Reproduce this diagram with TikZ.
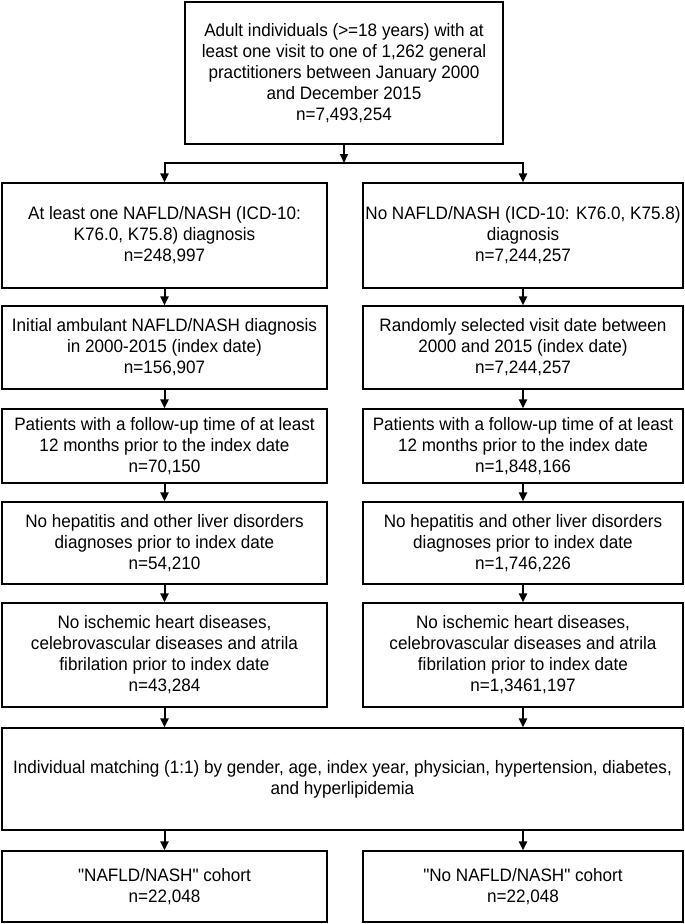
\documentclass[tikz,border=0pt]{standalone}
\usepackage{fontspec}
\setmainfont{Liberation Sans}[Ligatures=TeXOff, FakeStretch=0.95]
\usetikzlibrary{arrows.meta}
\begin{document}
\begin{tikzpicture}[x=1pt,y=-1pt,
  box/.style={draw=black, line width=1.2pt, fill=white, inner sep=0pt, align=center,
              font=\fontsize{18}{21}\selectfont},
  colL/.style={box, minimum width=325pt},
  colR/.style={box, minimum width=320pt},
  arr/.style={line width=2pt, -{Triangle[width=8pt,length=9pt]}},
]
\useasboundingbox (0,0) rectangle (685,924);

\node[box, line width=2.2pt, minimum width=318pt, minimum height=142pt] (top) at (344,73)
  {Adult individuals (>=18 years) with at\\least one visit to one of 1,262 general\\practitioners between January 2000\\and December 2015\\n=7,493,254};

\node[colL, minimum height=105pt] (L1) at (164.5,235.5)
  {At least one NAFLD/NASH (ICD-10:\\K76.0, K75.8) diagnosis\\n=248,997};
\node[colR, minimum height=105pt] (R1) at (523,235.5)
  {No NAFLD/NASH (ICD-10: K76.0, K75.8)\\diagnosis\\n=7,244,257};

\node[colL, minimum height=83pt] (L2) at (164.5,347.5)
  {Initial ambulant NAFLD/NASH diagnosis\\in 2000-2015 (index date)\\n=156,907};
\node[colR, minimum height=83pt] (R2) at (523,347.5)
  {Randomly selected visit date between\\2000 and 2015 (index date)\\n=7,244,257};

\node[colL, minimum height=74pt] (L3) at (164.5,446)
  {Patients with a follow-up time of at least\\12 months prior to the index date\\n=70,150};
\node[colR, minimum height=74pt] (R3) at (523,446)
  {Patients with a follow-up time of at least\\12 months prior to the index date\\n=1,848,166};

\node[colL, minimum height=82pt] (L4) at (164.5,543)
  {No hepatitis and other liver disorders\\diagnoses prior to index date\\n=54,210};
\node[colR, minimum height=82pt] (R4) at (523,543)
  {No hepatitis and other liver disorders\\diagnoses prior to index date\\n=1,746,226};

\node[colL, minimum height=104pt] (L5) at (164.5,655)
  {No ischemic heart diseases,\\celebrovascular diseases and atrila\\fibrilation prior to index date\\n=43,284};
\node[colR, minimum height=104pt] (R5) at (523,655)
  {No ischemic heart diseases,\\celebrovascular diseases and atrila\\fibrilation prior to index date\\n=1,3461,197};

\node[box, minimum width=681pt, minimum height=102pt] (M) at (342.5,779)
  {Individual matching (1:1) by gender, age, index year, physician, hypertension, diabetes,\\and hyperlipidemia};

\node[colL, minimum height=71pt] (BL) at (164.5,886.5)
  {"NAFLD/NASH" cohort\\n=22,048};
\node[colR, minimum height=71pt] (BR) at (523,886.5)
  {"No NAFLD/NASH" cohort\\n=22,048};

\coordinate (hub) at (344,163);
\draw[arr] (top.south) -- (hub);
\draw[arr] (hub) -| (L1.north);
\draw[arr] (hub) -| (R1.north);

\draw[arr] (L1) -- (L2);
\draw[arr] (L2) -- (L3);
\draw[arr] (L3) -- (L4);
\draw[arr] (L4) -- (L5);
\draw[arr] (R1) -- (R2);
\draw[arr] (R2) -- (R3);
\draw[arr] (R3) -- (R4);
\draw[arr] (R4) -- (R5);

\draw[arr] (L5.south) -- (L5.south |- M.north);
\draw[arr] (R5.south) -- (R5.south |- M.north);
\draw[arr] (BL.north |- M.south) -- (BL.north);
\draw[arr] (BR.north |- M.south) -- (BR.north);
\end{tikzpicture}
\end{document}
